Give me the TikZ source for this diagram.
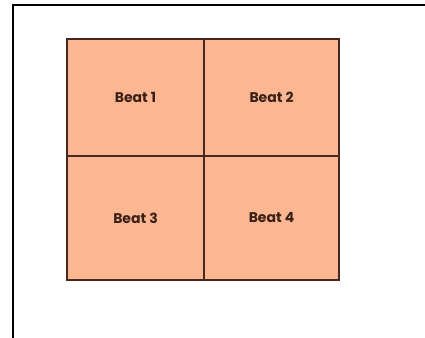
\documentclass[tikz,border=0pt]{standalone}
\usepackage{fontspec}
\setmainfont{Poppins}
\usepackage{tikz}

\definecolor{peach}{RGB}{253,182,146}
\definecolor{gridbrown}{RGB}{72,40,28}

\tikzset{
  cell/.style={draw=gridbrown, line width=1.1pt, fill=peach, rectangle, inner sep=0pt,
    font=\fontsize{10.5}{12}\selectfont\bfseries, text=gridbrown!80!black},
}

\begin{document}
\begin{tikzpicture}[x=0.75pt, y=-0.75pt]
            \useasboundingbox (0,0) rectangle (425,337);

            % Frame
            \coordinate (fbot) at (13,337);
            \coordinate (fcorner) at (13,5);
            \coordinate (fright) at (425,5);
            \draw[line width=1.6pt, line cap=rect] (fbot) -- (fcorner) -- (fright);

            % Nodes
            \node[cell, minimum width=102.75pt, minimum height=87.75pt] (beat1) at (135.5,97.5) {Beat 1};
            \node[cell, minimum width=101.25pt, minimum height=87.75pt] (beat2) at (271.5,97.5) {Beat 2};
            \node[cell, minimum width=102.75pt, minimum height=93pt] (beat3) at (135.5,218) {Beat 3};
            \node[cell, minimum width=101.25pt, minimum height=93pt] (beat4) at (271.5,218) {Beat 4};
        \end{tikzpicture}
\end{document}
